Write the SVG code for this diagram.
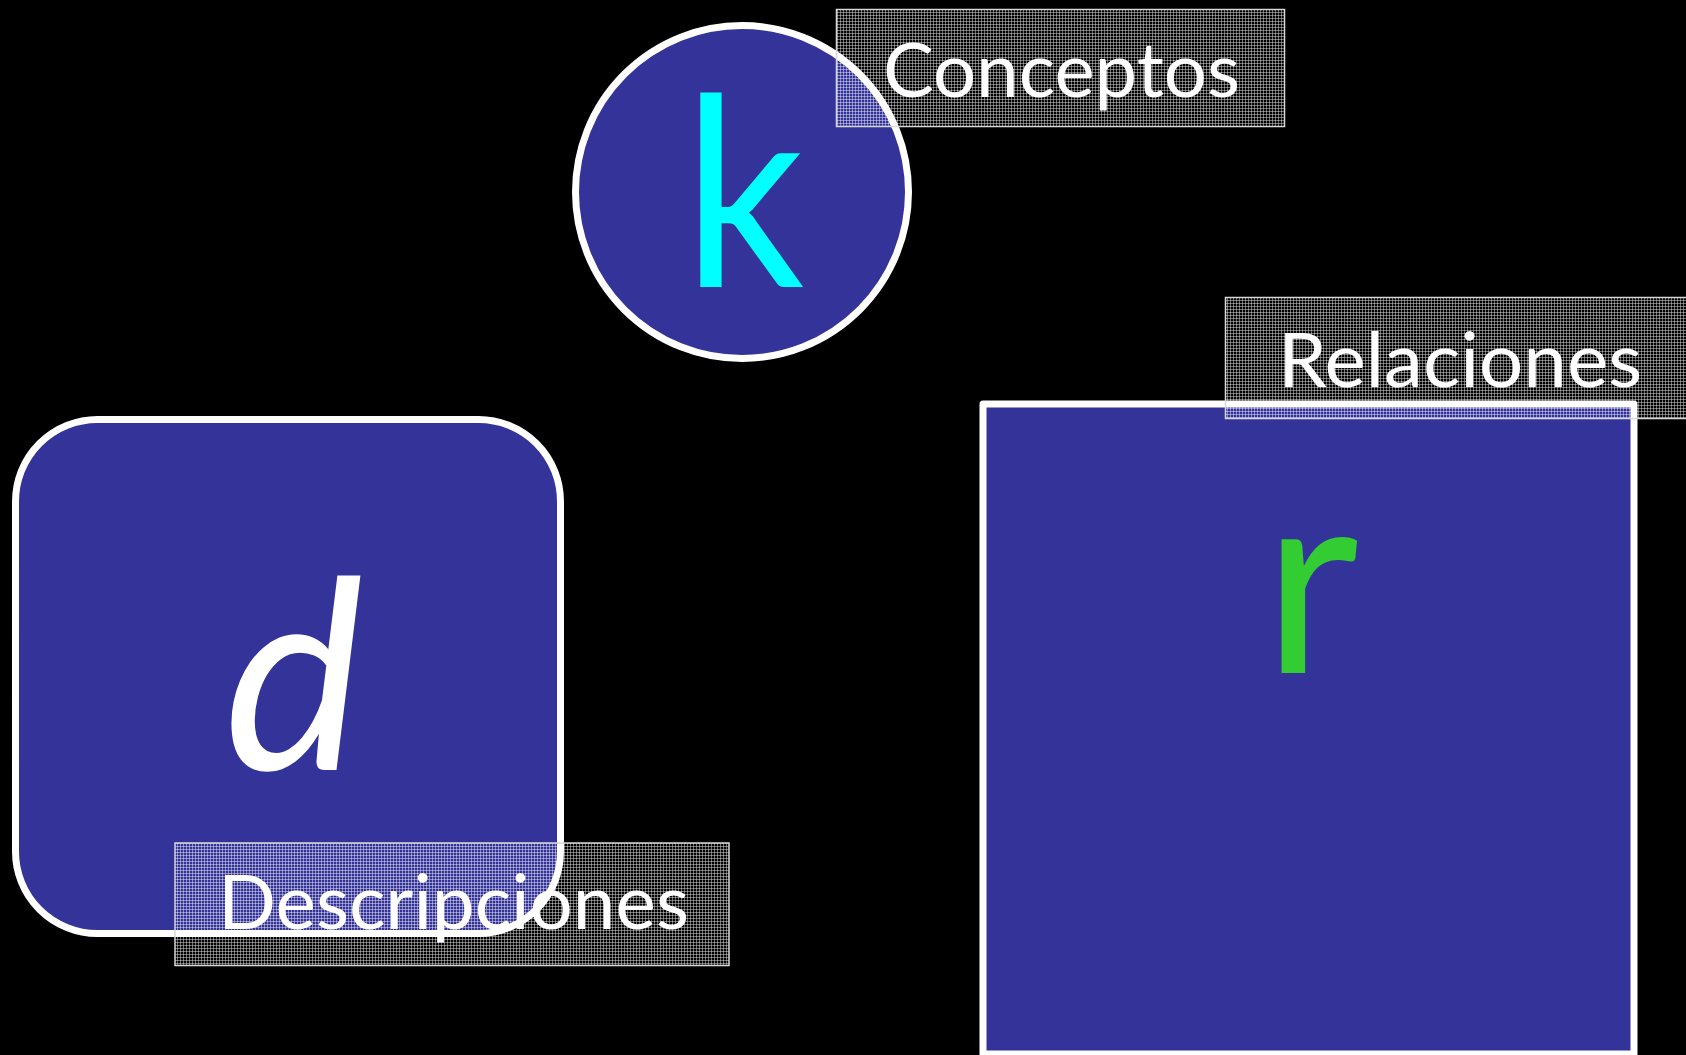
<svg xmlns="http://www.w3.org/2000/svg" width="1686" height="1055" viewBox="0 0 1686 1055">
  <style>
    .shape { fill: #333399; stroke: #ffffff; stroke-width: 7; stroke-linejoin: round; }
    .big { font-family: Lato, "Open Sans", "Liberation Sans", sans-serif; font-size: 264px; text-anchor: middle; }
    .tag { fill: url(#grid); stroke: #d8d8d8; stroke-width: 1.5; }
    .lbl { font-family: Lato, "Open Sans", "Liberation Sans", sans-serif; font-size: 76px; fill: #ffffff; }
  </style>
  <defs>
    <pattern id="grid" width="3" height="3" patternUnits="userSpaceOnUse">
      <path d="M0 0.5H3M0.5 0V3" stroke="#ffffff" stroke-opacity="0.42" stroke-width="1" fill="none"/>
    </pattern>
  </defs>
  <rect x="0" y="0" width="1686" height="1055" fill="#000000"/>

  <g id="connectors"></g>

  <g id="node-k">
    <circle class="shape" cx="742" cy="192" r="166.5"/>
    <text class="big" x="744" y="287" fill="#00ffff" textLength="121" lengthAdjust="spacingAndGlyphs">k</text>
  </g>

  <g id="node-d">
    <rect class="shape" x="15.5" y="419.5" width="545" height="514" rx="82" ry="82"/>
    <text class="big" x="294" y="770" fill="#ffffff" font-style="italic">d</text>
  </g>

  <g id="node-r">
    <rect class="shape" x="983" y="404" width="651" height="650" stroke-width="8"/>
    <text class="big" x="1311" y="673" fill="#33cc33">r</text>
  </g>

  <g id="label-conceptos">
    <rect class="tag" x="836.5" y="9.5" width="448" height="117"/>
    <text class="lbl" x="883" y="97" textLength="357" lengthAdjust="spacingAndGlyphs">Conceptos</text>
  </g>

  <g id="label-relaciones">
    <rect class="tag" x="1225.5" y="297.5" width="470" height="121"/>
    <text class="lbl" x="1278" y="387" textLength="364" lengthAdjust="spacingAndGlyphs">Relaciones</text>
  </g>

  <g id="label-descripciones">
    <rect class="tag" x="175" y="843" width="554" height="122.5"/>
    <text class="lbl" x="218" y="929" textLength="471" lengthAdjust="spacingAndGlyphs">Descripciones</text>
  </g>
</svg>
